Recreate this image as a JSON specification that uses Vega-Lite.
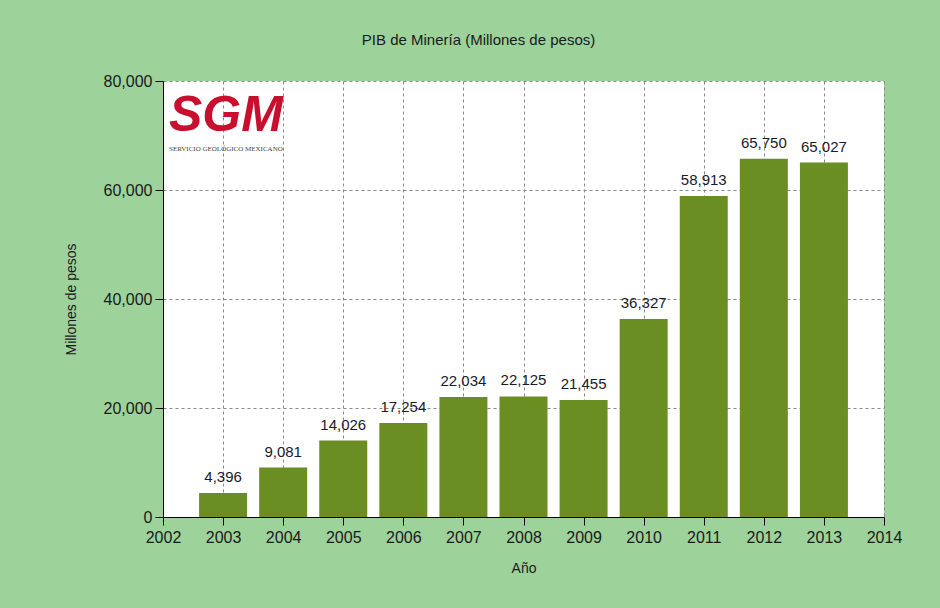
{
  "$schema": "https://vega.github.io/schema/vega-lite/v6.json",
  "autosize": "none",
  "width": 721,
  "height": 436,
  "padding": {"left": 163, "top": 81, "right": 56, "bottom": 91},
  "background": "#9dd29b",
  "title": {
    "text": "PIB de Minería (Millones de pesos)",
    "font": "Liberation Sans",
    "fontSize": 15,
    "fontWeight": "normal",
    "color": "#1a1a1a",
    "anchor": "middle",
    "dx": -45,
    "offset": 25
  },
  "config": {
    "view": {"fill": "white", "stroke": null},
    "axis": {
      "labelFont": "Liberation Sans",
      "titleFont": "Liberation Sans",
      "labelFontSize": 16,
      "titleFontSize": 14,
      "titleFontWeight": "normal",
      "labelColor": "#1a1a1a",
      "titleColor": "#1a1a1a",
      "domainColor": "black",
      "tickColor": "black",
      "gridColor": "#888888",
      "gridDash": [3, 3],
      "gridWidth": 1,
      "tickSize": 8,
      "labelFlush": false
    }
  },
  "data": {
    "values": [
      {"year": 2003, "value": 4396},
      {"year": 2004, "value": 9081},
      {"year": 2005, "value": 14026},
      {"year": 2006, "value": 17254},
      {"year": 2007, "value": 22034},
      {"year": 2008, "value": 22125},
      {"year": 2009, "value": 21455},
      {"year": 2010, "value": 36327},
      {"year": 2011, "value": 58913},
      {"year": 2012, "value": 65750},
      {"year": 2013, "value": 65027}
    ]
  },
  "encoding": {
    "x": {
      "field": "year",
      "type": "quantitative",
      "scale": {"domain": [2002, 2014], "nice": false, "zero": false, "padding": 0},
      "axis": {
        "title": "Año",
        "format": "d",
        "values": [2002, 2003, 2004, 2005, 2006, 2007, 2008, 2009, 2010, 2011, 2012, 2013, 2014],
        "labelPadding": 4,
        "titlePadding": 16
      }
    },
    "y": {
      "field": "value",
      "type": "quantitative",
      "scale": {"domain": [0, 80000], "nice": false},
      "axis": {
        "title": "Millones de pesos",
        "format": ",d",
        "values": [0, 20000, 40000, 60000, 80000],
        "labelPadding": 3,
        "titlePadding": 25
      }
    }
  },
  "layer": [
    {
      "mark": {"type": "bar", "width": 48, "color": "#6b8e23"}
    },
    {
      "mark": {
        "type": "text",
        "dy": -16,
        "font": "Liberation Sans",
        "fontSize": 15,
        "color": "#1a1a2a"
      },
      "encoding": {"text": {"field": "value", "type": "quantitative", "format": ",d"}}
    },
    {
      "data": {"values": [{"year": 2002.1, "value": 70800, "t": "SGM"}]},
      "mark": {
        "type": "text",
        "align": "left",
        "baseline": "alphabetic",
        "font": "Liberation Sans",
        "fontSize": 50,
        "fontWeight": "bold",
        "fontStyle": "italic",
        "color": "#c8102e"
      },
      "encoding": {
        "text": {"field": "t"}
      }
    },
    {
      "data": {"values": [{"year": 2002.1, "value": 67500, "t": "SERVICIO GEOLÓGICO MEXICANO"}]},
      "mark": {
        "type": "text",
        "align": "left",
        "baseline": "middle",
        "font": "Liberation Serif",
        "fontSize": 7,
        "color": "#444444"
      },
      "encoding": {
        "text": {"field": "t"}
      }
    }
  ]
}
